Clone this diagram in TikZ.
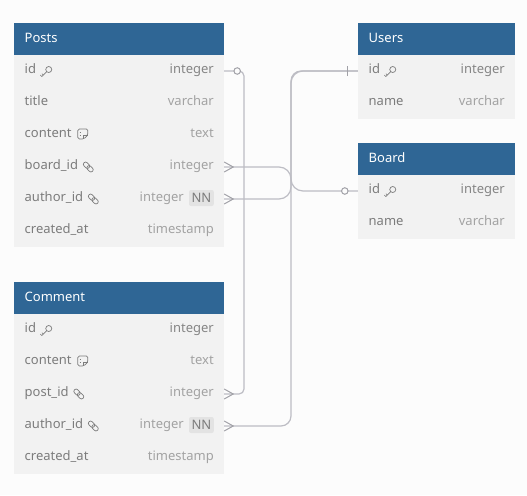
\documentclass[tikz,border=0pt]{standalone}
\usepackage{fontspec}
\setmainfont{Noto Sans}
\definecolor{bgc}{HTML}{FCFCFC}
\definecolor{headc}{HTML}{2F6695}
\definecolor{rowc}{HTML}{F2F2F2}
\definecolor{namec}{HTML}{7C7C7C}
\definecolor{typec}{HTML}{A3A3A3}
\definecolor{linec}{HTML}{BDBDC4}
\definecolor{nnc}{HTML}{E3E3E3}
\tikzset{
  headbox/.style={fill=headc,inner sep=0pt,anchor=north west,minimum height=32pt,text=white,font=\fontsize{13}{15}\selectfont\bfseries,align=left,text depth=0pt},
  rowbox/.style={fill=rowc,inner sep=0pt,minimum height=32pt},
  nametext/.style={inner sep=0pt,anchor=west,text=namec,font=\fontsize{13}{15}\selectfont},
  typetext/.style={inner sep=0pt,anchor=east,text=typec,font=\fontsize{13}{15}\selectfont},
  pkname/.style={nametext,font=\fontsize{13}{15}\selectfont\bfseries},
  pktype/.style={typetext,text=namec!75!typec,font=\fontsize{13}{15}\selectfont\bfseries},
  nnbox/.style={fill=nnc,text=namec,rounded corners=2pt,inner xsep=2.5pt,inner ysep=0pt,minimum height=16pt,anchor=east,font=\fontsize{13}{15}\selectfont},
  conn/.style={draw=linec,line width=1.2pt,rounded corners=#1},
  conn/.default=5pt,
  endmark/.style={draw=linec!85!black,line width=1pt},
  ring/.style={circle,draw=linec!85!black,fill=bgc,line width=1pt,inner sep=0pt,minimum size=6.5pt},
  iconline/.style={draw=namec,line width=.7pt},
  keyicon/.pic={
    \draw[iconline] (3,-1.5) circle[radius=3];
    \draw[iconline] (1,.7) -- (-4,5.5) -- (-5.5,4) (-2.5,4) -- (-3.8,2.7);
  },
  noteicon/.pic={
    \draw[iconline,rounded corners=1.5pt] (-5,-5) -- (5,-5) -- (5,1) -- (1,5) -- (-5,5) -- cycle;
    \draw[iconline] (5,1) -- (1,1) -- (1,5);
    \draw[iconline,line width=.9pt] (-3.2,-1.6) -- (-2.6,-1.6) (-3.2,1.2) -- (-2.6,1.2);
  },
  linkicon/.pic={
    \draw[iconline,rotate=-45,rounded corners=2pt] (-6,-2.2) rectangle (1,2.2);
    \draw[iconline,rotate=-45,rounded corners=2pt] (-1,-2.2) rectangle (6,2.2);
  },
}
% \fieldrow{id}{left x}{width}{y centre}{name}{type}
\newcommand{\fieldrow}[6]{%
  \node[rowbox,minimum width=#3pt] (#1) at (#2+#3/2,#4) {};
  \node[nametext] (#1name) at (#2+10.5,#4-.5) {\strut #5};
  \node[typetext] (#1type) at (#2+#3-10,#4-.5) {\strut #6};
}
\newcommand{\pkrow}[6]{%
  \node[rowbox,minimum width=#3pt] (#1) at (#2+#3/2,#4) {};
  \node[pkname] (#1name) at (#2+10.5,#4-.5) {\strut #5};
  \node[pktype] (#1type) at (#2+#3-10,#4-.5) {\strut #6};
  \pic at ([xshift=9.5pt,yshift=-.5pt]#1name.east) {keyicon};
}
\begin{document}
\begin{tikzpicture}[x=1pt,y=-1pt]
\useasboundingbox[fill=bgc] (0,0) rectangle (527,495);
% Posts
\node[headbox,minimum width=210pt] (posts) at (14,23) {};
\node[anchor=west,inner sep=0pt,text=white,font=\fontsize{13}{15}\selectfont\bfseries] (poststitle) at (24.5,38) {Posts};
\pkrow{pid}{14}{210}{71}{id}{integer}
\fieldrow{ptitle}{14}{210}{103}{title}{varchar}
\fieldrow{pcontent}{14}{210}{135}{content}{text}
\pic at ([xshift=11pt,yshift=.5pt]pcontentname.east) {noteicon};
\fieldrow{pboard}{14}{210}{167}{board\_id}{integer}
\pic at ([xshift=10pt,yshift=-.5pt]pboardname.east) {linkicon};
\fieldrow{pauthor}{14}{210}{199}{author\_id}{integer\rule{30pt}{0pt}}
\pic at ([xshift=10pt,yshift=-.5pt]pauthorname.east) {linkicon};
\node[nnbox] (pnn) at (214,198) {NN};
\fieldrow{pcreated}{14}{210}{231}{created\_at}{timestamp}
% Comment
\node[headbox,minimum width=210pt] (comment) at (14,282) {};
\node[anchor=west,inner sep=0pt,text=white,font=\fontsize{13}{15}\selectfont\bfseries] (commenttitle) at (24.5,297) {Comment};
\pkrow{cid}{14}{210}{330}{id}{integer}
\fieldrow{ccontent}{14}{210}{362}{content}{text}
\pic at ([xshift=11pt,yshift=.5pt]ccontentname.east) {noteicon};
\fieldrow{cpost}{14}{210}{394}{post\_id}{integer}
\pic at ([xshift=10pt,yshift=-.5pt]cpostname.east) {linkicon};
\fieldrow{cauthor}{14}{210}{426}{author\_id}{integer\rule{30pt}{0pt}}
\pic at ([xshift=10pt,yshift=-.5pt]cauthorname.east) {linkicon};
\node[nnbox] (cnn) at (214,425) {NN};
\fieldrow{ccreated}{14}{210}{458}{created\_at}{timestamp}
% Users
\node[headbox,minimum width=157pt] (users) at (358,23) {};
\node[anchor=west,inner sep=0pt,text=white,font=\fontsize{13}{15}\selectfont\bfseries] (userstitle) at (368.5,38) {Users};
\pkrow{uid}{358}{157}{71}{id}{integer}
\fieldrow{uname}{358}{157}{103}{name}{varchar}
% Board
\node[headbox,minimum width=157pt] (board) at (358,143) {};
\node[anchor=west,inner sep=0pt,text=white,font=\fontsize{13}{15}\selectfont\bfseries] (boardtitle) at (368.5,158) {Board};
\pkrow{bid}{358}{157}{191}{id}{integer}
\fieldrow{bname}{358}{157}{223}{name}{varchar}
% connectors
\coordinate (lane1) at (244,0);
\coordinate (lane2) at (291,0);
\draw[conn=5pt] (pid.east) -| (lane1 |- cpost.east) -- (cpost.east);
\draw[conn=12pt] (pauthor.east) -- (lane2 |- pauthor.east) -- (lane2 |- uid.west) -- (uid.west);
\draw[conn=10pt] (cauthor.east) -- (lane2 |- cauthor.east) -- (lane2 |- uid.west) -- (uid.west);
\draw[conn=12pt] (pboard.east) -- (lane2 |- pboard.east) -- (lane2 |- bid.west) -- (bid.west);
% end markers
\node[ring] (pidring) at ([xshift=13pt]pid.east) {};
\node[ring] (bidring) at ([xshift=-13pt]bid.west) {};
\draw[endmark] ([xshift=-10pt,yshift=-5pt]uid.west) -- ([xshift=-10pt,yshift=5pt]uid.west);
\foreach \n in {pboard,pauthor,cpost,cauthor}{
  \draw[endmark] ([yshift=-5pt]\n.east) -- ([xshift=9pt]\n.east) -- ([yshift=5pt]\n.east);
}
\end{tikzpicture}
\end{document}
